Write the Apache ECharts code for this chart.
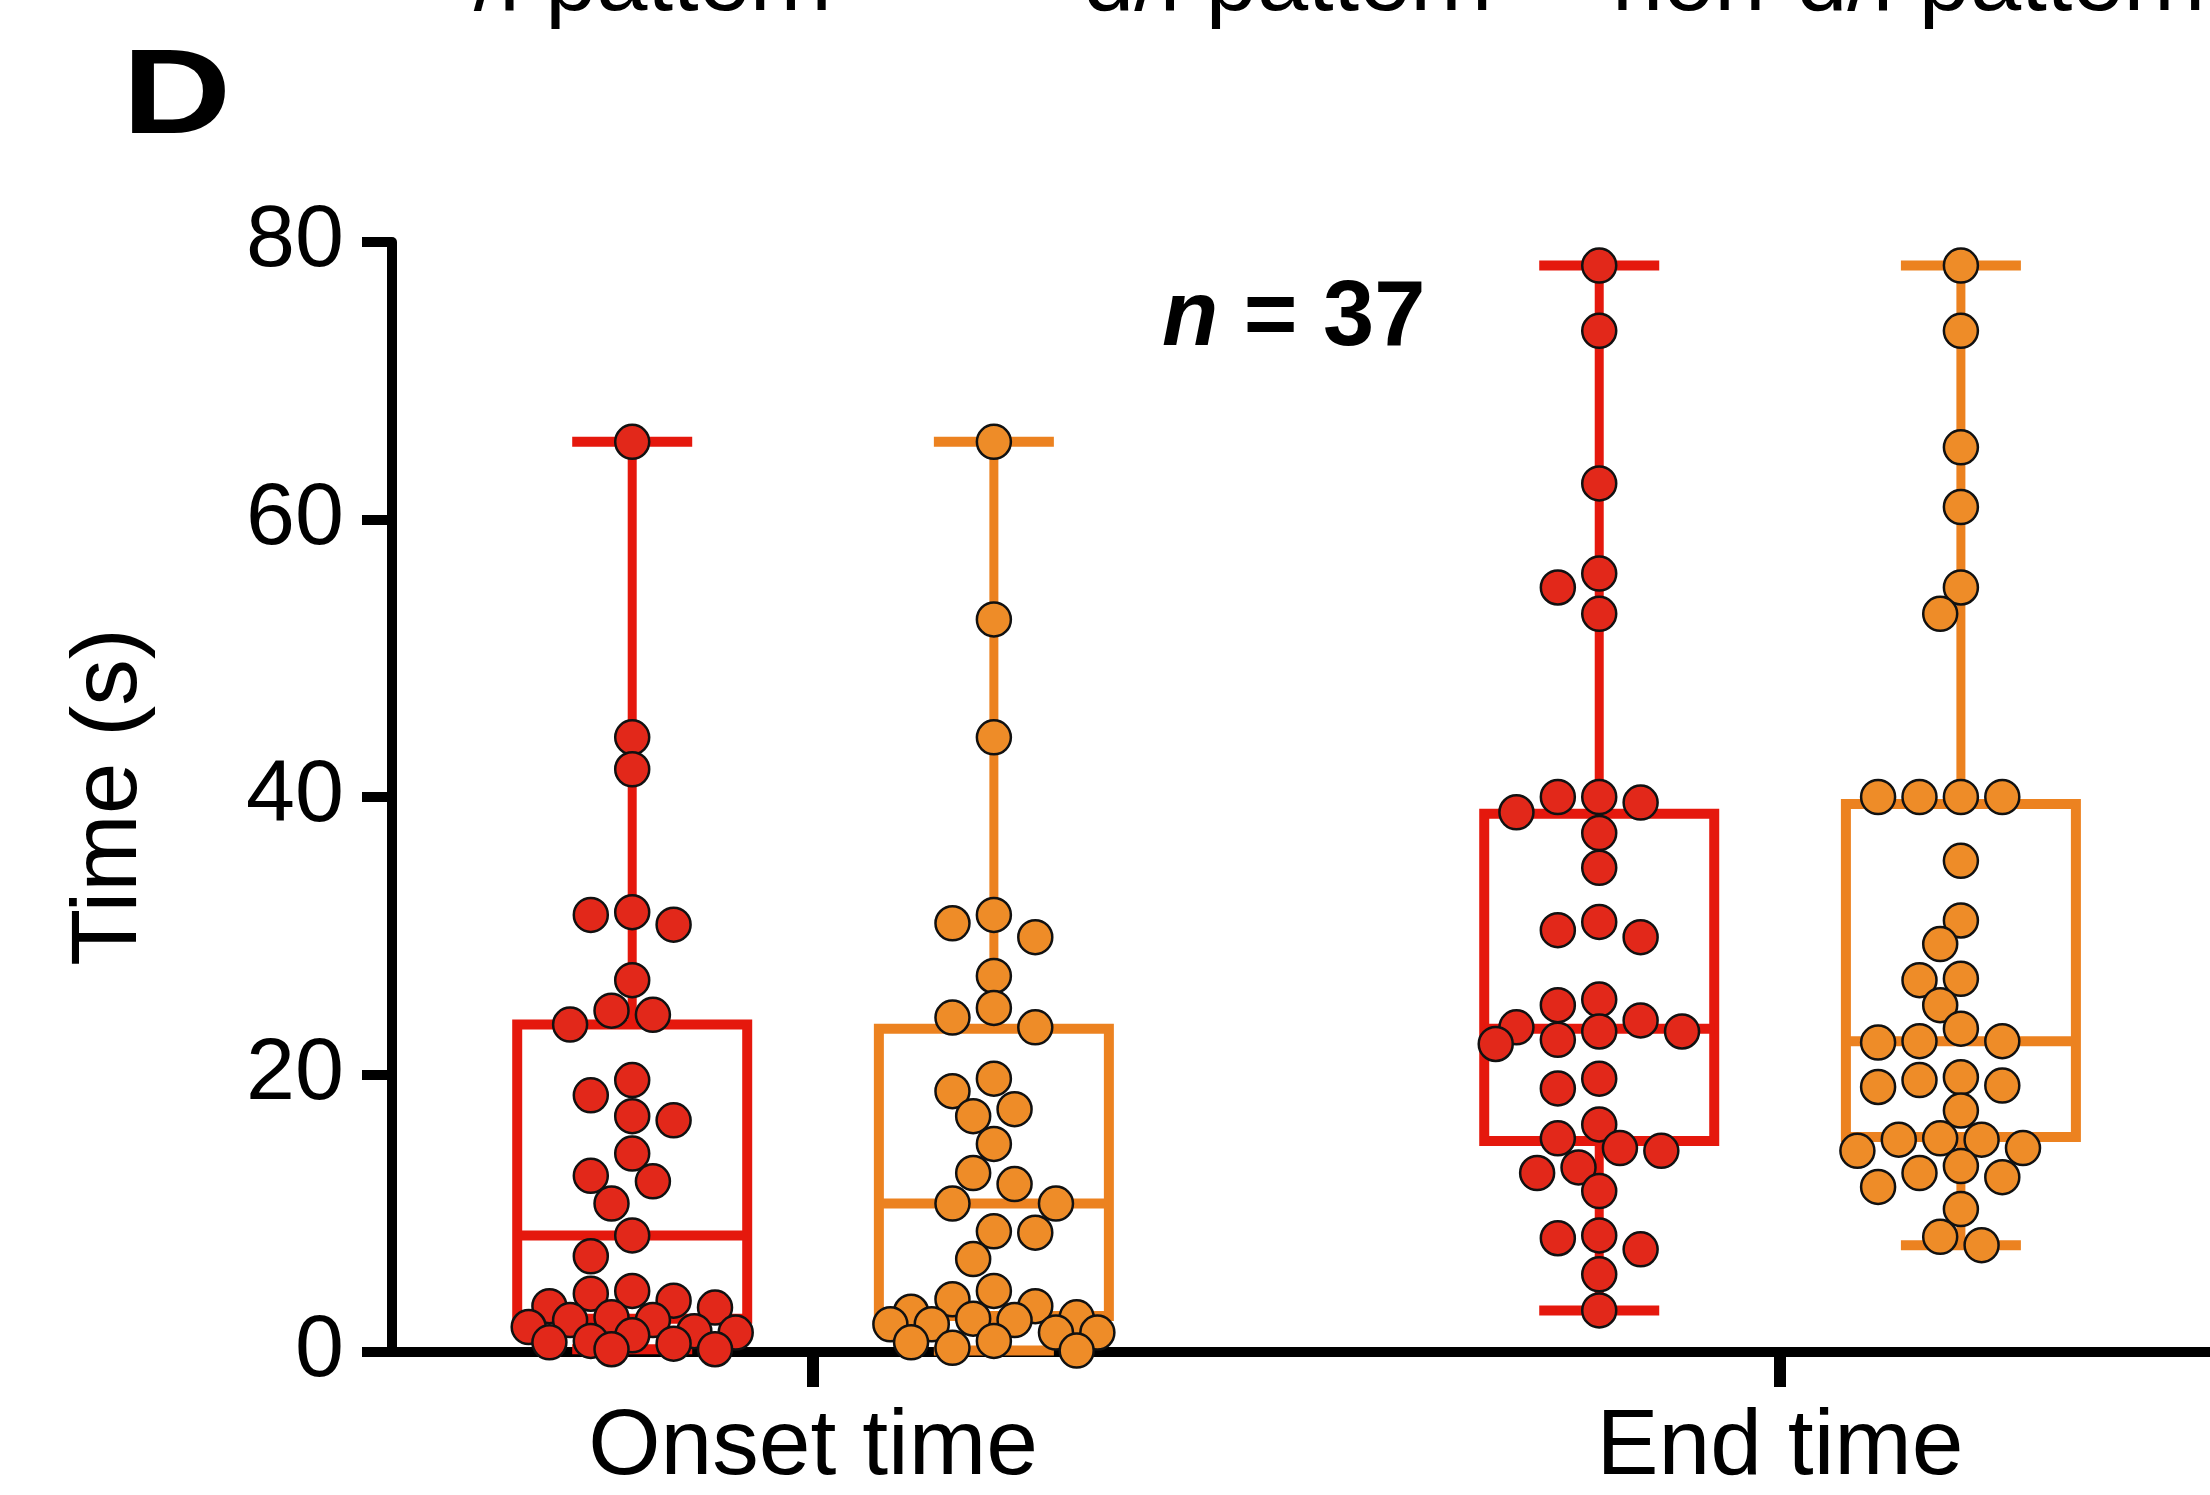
<!DOCTYPE html>
<html>
<head>
<meta charset="utf-8">
<title>Onset and end time</title>
<script src="https://cdn.jsdelivr.net/npm/echarts@6/dist/echarts.min.js"></script>
<style>
  html, body { margin: 0; padding: 0; background: #fff; }
  #chart { width: 2210px; height: 1495px; }
</style>
</head>
<body>
<div id="chart"></div>
<script>
// Categories on the x axis (group centres sit at 0 and 1)
const categories = ['Onset time', 'End time'];
const yTicks = [0, 20, 40, 60, 80];
const topLabels = ['-/l pattern', 'd/l pattern', 'non-d/l pattern'];

// Individual times (s), one value per recording
const onsetRed = [65.6, 44.3, 42.0, 31.7, 31.5, 30.8, 26.8, 24.6, 24.3, 23.6, 19.6, 18.5, 17.0,
  16.7, 14.3, 12.7, 12.3, 10.7, 8.4, 6.9, 4.4, 4.2, 3.7, 3.3, 3.2, 2.5, 2.3, 2.3, 1.8, 1.5,
  1.4, 1.2, 0.8, 0.7, 0.6, 0.2, 0.2];
const onsetOrange = [65.6, 52.8, 44.3, 31.5, 30.9, 29.9, 27.1, 24.8, 24.1, 23.4, 19.7, 18.8, 17.5,
  17.0, 15.0, 12.9, 12.1, 10.7, 10.7, 8.7, 8.6, 6.7, 4.4, 3.8, 3.3, 2.9, 2.5, 2.4, 2.3, 2.0,
  2.0, 1.4, 1.4, 0.8, 0.7, 0.3, 0.1];
const endRed = [78.3, 73.6, 62.6, 56.1, 55.1, 53.2, 40.0, 40.0, 39.6, 38.9, 37.4, 34.9, 31.0,
  30.4, 29.9, 25.4, 25.0, 23.9, 23.4, 23.1, 23.1, 22.5, 22.2, 19.7, 19.0, 16.4, 15.4, 14.7,
  14.5, 13.3, 12.9, 11.6, 8.4, 8.2, 7.4, 5.6, 3.0];
const endOrange = [78.3, 73.6, 65.2, 60.9, 55.1, 53.2, 40.0, 40.0, 40.0, 40.0, 35.4, 31.1, 29.4,
  26.9, 26.8, 25.0, 23.3, 22.4, 22.4, 22.3, 19.8, 19.6, 19.2, 19.1, 17.4, 15.4, 15.3, 15.3,
  14.7, 14.5, 13.4, 12.9, 12.6, 11.9, 10.3, 8.3, 7.7];

// Box quartiles [Q1, median, Q3]; whiskers run from min to max of each group
const onsetRedBox = [2.4, 8.4, 23.6];
const onsetOrangeBox = [2.6, 10.7, 23.3];
const endRedBox = [15.2, 23.3, 38.8];
const endOrangeBox = [15.5, 22.4, 39.5];

const RED = '#e5180d', RED_DOT = '#e2281a';
const ORANGE = '#ec8220', ORANGE_DOT = '#ee8c28';
const FONT = '"Liberation Sans", Arial, Helvetica, sans-serif';

const groups = [
  { cat: 0, side: -1, vals: onsetRed, box: onsetRedBox, line: RED, dot: RED_DOT },
  { cat: 0, side: 1, vals: onsetOrange, box: onsetOrangeBox, line: ORANGE, dot: ORANGE_DOT },
  { cat: 1, side: -1, vals: endRed, box: endRedBox, line: RED, dot: RED_DOT },
  { cat: 1, side: 1, vals: endOrange, box: endOrangeBox, line: ORANGE, dot: ORANGE_DOT }
];
const SIDE_OFFSET = 0.187;   // x-axis units between category centre and box centre

const chart = echarts.init(document.getElementById('chart'), null, { renderer: 'canvas' });

// [x, min, Q1, median, Q3, max] per box
const boxData = groups.map(g => [
  g.cat + g.side * SIDE_OFFSET,
  Math.min(...g.vals), g.box[0], g.box[1], g.box[2], Math.max(...g.vals)
]);

function renderBox(params, api) {
  const x = api.value(0);
  const c = groups[params.dataIndex].line;
  const pMin = api.coord([x, api.value(1)]);
  const pQ1 = api.coord([x, api.value(2)]);
  const pMed = api.coord([x, api.value(3)]);
  const pQ3 = api.coord([x, api.value(4)]);
  const pMax = api.coord([x, api.value(5)]);
  const cx = pMed[0];
  const halfBox = 115, halfCap = 60;
  const lw = 10;
  const line = (x1, y1, x2, y2, w) => ({
    type: 'line',
    shape: { x1: x1, y1: y1, x2: x2, y2: y2 },
    style: { stroke: c, lineWidth: w || lw, fill: null }
  });
  return {
    type: 'group',
    children: [
      line(cx, pQ3[1], cx, pMax[1], 9),
      line(cx, pQ1[1], cx, pMin[1], 9),
      line(cx - halfCap, pMax[1], cx + halfCap, pMax[1]),
      line(cx - halfCap, pMin[1], cx + halfCap, pMin[1]),
      {
        type: 'rect',
        shape: { x: cx - halfBox, y: pQ3[1], width: 2 * halfBox, height: pQ1[1] - pQ3[1] },
        style: { fill: null, stroke: c, lineWidth: lw }
      },
      line(cx - halfBox, pMed[1], cx + halfBox, pMed[1])
    ]
  };
}

const X_MIN = -0.4354, X_MAX = 1.4446;

const boxSeries = {
  id: 'boxes',
  type: 'custom',
  z: 2,
  clip: false,
  renderItem: renderBox,
  dimensions: ['x', 'min', 'q1', 'median', 'q3', 'max'],
  encode: { x: 'x', y: ['min', 'max'] },
  data: boxData
};

chart.setOption({
  animation: false,
  backgroundColor: '#fff',
  grid: { left: 392, right: 0, top: 242, bottom: 142, containLabel: false },
  xAxis: {
    type: 'value',
    min: X_MIN,
    max: X_MAX,
    splitLine: { show: false },
    axisLine: { show: true, onZero: false, lineStyle: { color: '#000', width: 10 } },
    axisTick: { show: true, customValues: [0, 1], length: 35, lineStyle: { color: '#000', width: 12 } },
    axisLabel: {
      customValues: [0, 1],
      formatter: v => categories[Math.round(v)] || '',
      fontFamily: FONT, fontSize: 93, color: '#000', margin: 50
    }
  },
  yAxis: {
    type: 'value',
    min: yTicks[0],
    max: yTicks[yTicks.length - 1],
    interval: 20,
    name: 'Time (s)',
    nameLocation: 'middle',
    nameGap: 235,
    nameTextStyle: { fontFamily: FONT, fontSize: 93, color: '#000' },
    splitLine: { show: false },
    axisLine: { show: true, onZero: false, lineStyle: { color: '#000', width: 10 } },
    axisTick: { show: true, length: 30, lineStyle: { color: '#000', width: 10 } },
    axisLabel: { fontFamily: FONT, fontSize: 88, color: '#000', margin: 48 }
  },
  graphic: [
    {
      type: 'text', x: 122, y: 100, scaleX: 1.25,
      style: { text: 'D', font: 'bold 121px ' + FONT, fill: '#000', verticalAlign: 'middle', align: 'left' }
    },
    {
      type: 'text', x: 443, y: -15,
      style: { text: topLabels[0], font: '92px ' + FONT, fill: '#000', verticalAlign: 'middle', align: 'left' }
    },
    {
      type: 'text', x: 1083, y: -15,
      style: { text: topLabels[1], font: '92px ' + FONT, fill: '#000', verticalAlign: 'middle', align: 'left' }
    },
    {
      type: 'text', x: 1612, y: -15,
      style: { text: topLabels[2], font: '92px ' + FONT, fill: '#000', verticalAlign: 'middle', align: 'left' }
    },
    {
      type: 'text', x: 1162, y: 320,
      style: {
        text: '{i|n}{b| = ' + onsetRed.length + '}',
        verticalAlign: 'middle', align: 'left',
        rich: {
          i: { fontFamily: FONT, fontSize: 92, fontWeight: 'bold', fontStyle: 'italic', fill: '#000' },
          b: { fontFamily: FONT, fontSize: 92, fontWeight: 'bold', fill: '#000' }
        }
      }
    }
  ],
  series: [boxSeries]
});

// Lay the dots out as a beeswarm, working in pixels through the axis scales
const p0 = chart.convertToPixel({ gridIndex: 0 }, [0, 0]);
const p1 = chart.convertToPixel({ gridIndex: 0 }, [1, 20]);
const pxPerX = p1[0] - p0[0];
const pxPerY = (p0[1] - p1[1]) / 20;

function swarmOffsets(vals) {
  const step = 20.7, minD = 31, maxK = 5;
  const placed = [];
  const offs = new Array(vals.length).fill(0);
  const order = vals.map((v, i) => i).sort((a, b) => vals[b] - vals[a]);
  for (const i of order) {
    const y = vals[i] * pxPerY;
    let chosen = null, alt = 0, altScore = -1;
    for (let j = 0; j <= 2 * maxK; j++) {
      const k = j === 0 ? 0 : (j % 2 ? -Math.ceil(j / 2) : Math.ceil(j / 2));
      const x = k * step;
      let md = Infinity;
      for (const p of placed) {
        const d = Math.hypot(p.x - x, p.y - y);
        if (d < md) md = d;
      }
      if (md >= minD) { chosen = x; break; }
      if (md > altScore) { altScore = md; alt = x; }
    }
    if (chosen === null) chosen = alt;
    placed.push({ x: chosen, y: y });
    offs[i] = chosen;
  }
  return offs;
}

const dotSeries = groups.map((g, gi) => {
  const cx = g.cat + g.side * SIDE_OFFSET;
  const offs = swarmOffsets(g.vals);
  return {
    id: 'dots' + gi,
    type: 'scatter',
    z: 5,
    clip: false,
    symbol: 'circle',
    symbolSize: 34,
    itemStyle: { color: g.dot, borderColor: '#111', borderWidth: 2.5, opacity: 1 },
    data: g.vals.map((v, i) => [cx + offs[i] / pxPerX, v])
  };
});

chart.setOption({ series: [boxSeries].concat(dotSeries) });
</script>
</body>
</html>
